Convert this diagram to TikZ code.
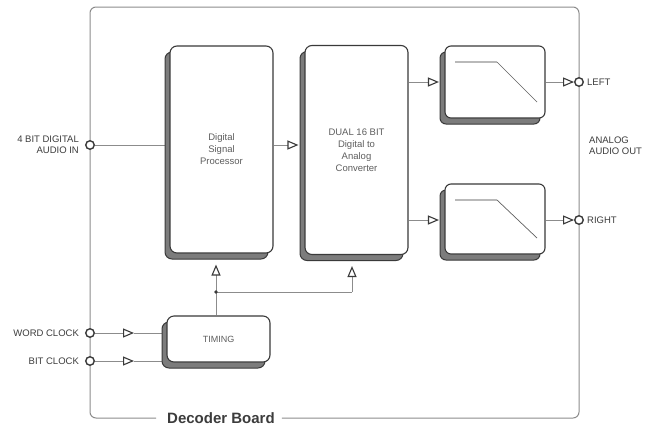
\documentclass[tikz,border=0pt]{standalone}
\usepackage{fontspec}
\setmainfont{Liberation Sans}
\usetikzlibrary{arrows.meta,shadows,calc}
\pgfdeclarelayer{background}
\pgfdeclarelayer{canvas}
\pgfsetlayers{canvas,background,main}
\definecolor{ln}{HTML}{8C8C8C}
\definecolor{bd}{HTML}{3A3A3A}
\definecolor{tx}{HTML}{3C3C3C}
\definecolor{btx}{HTML}{5E5E5E}
\definecolor{sh}{HTML}{7C7C7C}
\begin{document}
\begin{tikzpicture}[x=1pt,y=-1pt,
  block/.style={draw=bd, line width=1.1pt, fill=white, rounded corners=7pt,
    inner sep=0pt, text=btx, font=\fontsize{9.5}{12}\selectfont, align=center,
    general shadow={shadow xshift=-5pt, shadow yshift=-6pt, fill=sh, draw=bd, line width=1pt}},
  conn/.style={draw=ln, line width=0.9pt},
  buf/.style={-{Triangle[open, length=11pt, width=9pt, line width=1.1pt, color=bd]}},
  port/.style={circle, draw=bd, line width=1.4pt, fill=white, minimum size=8.5pt, inner sep=0pt},
  lbl/.style={text=tx, font=\fontsize{9.5}{11}\selectfont, inner sep=0pt},
  board/.style={draw=ln, line width=1pt, rounded corners=6pt},
]
\useasboundingbox (0,0) rectangle (647,429);
\begin{pgfonlayer}{canvas}
\fill[white] (0,0) rectangle (647,429);
\end{pgfonlayer}

% blocks
\node[block, minimum width=103pt, minimum height=207pt] (dsp) at (221.5,149.5) {Digital\\Signal\\Processor};
\node[block, minimum width=103pt, minimum height=209pt] (dac) at (356.5,150) {DUAL 16 BIT\\Digital to\\Analog\\Converter};
\node[block, rounded corners=6pt, minimum width=100pt, minimum height=72pt] (fl) at (495,82) {};
\node[block, rounded corners=6pt, minimum width=100pt, minimum height=70pt] (fr) at (495,219) {};
\node[block, font=\fontsize{9}{11}\selectfont, minimum width=103pt, minimum height=46pt] (timing) at (218.5,339) {TIMING};

% title
\node[text=tx, font=\fontsize{15}{17}\selectfont\bfseries, inner sep=0pt] (title) at (221,418) {Decoder Board};

% ports
\node[port] (cin) at (90,145) {};
\node[port] (wc) at (90,333) {};
\node[port] (bc) at (90,361) {};
\node[port] (lo) at (579,82) {};
\node[port] (ro) at (579,220) {};

\coordinate (tl) at (90,7);
\coordinate (tr) at (579,7);
\coordinate (j) at (216,292);
\coordinate (k) at (352,292);

\begin{pgfonlayer}{background}
  \draw[board] ([xshift=-11pt]title.west) -| (tl) -- (tr) |- ([xshift=7pt]title.east);
  \draw[conn] (cin) -- (dsp.west |- cin);
  \draw[conn,buf] (dsp.east |- cin) -- ([xshift=-6pt]dac.west |- cin);
  \draw[conn,buf] (dac.east |- fl.west) -- ([xshift=-5.5pt]fl.west);
  \draw[conn,buf] (dac.east |- ro) -- ([xshift=-5.5pt]fr.west |- ro);
  \draw[conn,buf] (fl.east |- lo) -- (lo.west);
  \draw[conn,buf] (fr.east |- ro) -- (ro.west);
  \draw[conn,buf] (wc) -- ++(44,0) coordinate (wa);
  \draw[conn] (wa) -- (timing.west |- wc);
  \draw[conn,buf] (bc) -- ++(44,0) coordinate (ba);
  \draw[conn] (ba) -- (timing.west |- bc);
  \draw[conn] (timing.north -| j) -- (j);
  \draw[conn,buf] (j) -- ([yshift=-11pt]dsp.south -| j);
  \draw[conn] (j) -- (k);
  \draw[conn,buf] (k) -- ([yshift=-11pt]dac.south -| k);
\end{pgfonlayer}
\fill[bd] (j) circle (1.8pt);

% filter curves
\draw[gray!55, line width=1.6pt] ($(fl.center)+(-40,-20)$) -- ($(fl.center)+(2,-20)$);
\draw[bd!80, line width=0.7pt] ($(fl.center)+(2,-20)$) -- ($(fl.center)+(42,20)$);
\draw[gray!55, line width=1.6pt] ($(fr.center)+(-40,-19)$) -- ($(fr.center)+(2,-19)$);
\draw[bd!80, line width=0.7pt] ($(fr.center)+(2,-19)$) -- ($(fr.center)+(42,19)$);

% labels
\node[lbl, anchor=east, align=right] (lin) at ([xshift=-6pt]cin.west) {4 BIT DIGITAL\\AUDIO IN};
\node[lbl, anchor=east] (lwc) at ([xshift=-6pt]wc.west) {WORD CLOCK};
\node[lbl, anchor=east] (lbc) at ([xshift=-6pt]bc.west) {BIT CLOCK};
\node[lbl, anchor=west] (llo) at ([xshift=3pt]lo.east) {LEFT};
\node[lbl, anchor=west] (lro) at ([xshift=3pt]ro.east) {RIGHT};
\node[lbl, anchor=west, align=left] (lout) at (589,146) {ANALOG\\AUDIO OUT};
\end{tikzpicture}
\end{document}
